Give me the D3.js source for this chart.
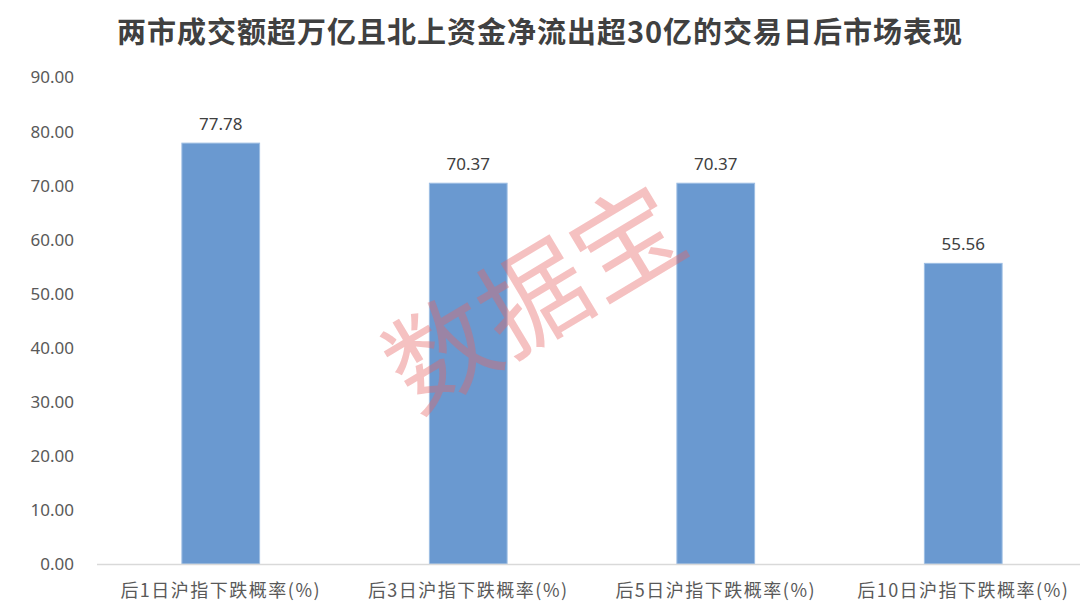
<!DOCTYPE html>
<html>
<head>
<meta charset="utf-8">
<script src="https://cdn.jsdelivr.net/npm/d3@7/dist/d3.min.js"></script>
<style>
  html, body { margin: 0; padding: 0; background: #fff; }
  svg { display: block; }
</style>
</head>
<body>
<svg id="chart" width="1080" height="611"></svg>
<script>
const titleText = "两市成交额超万亿且北上资金净流出超30亿的交易日后市场表现";
const categories = ["后1日沪指下跌概率(%)", "后3日沪指下跌概率(%)", "后5日沪指下跌概率(%)", "后10日沪指下跌概率(%)"];
const values = [77.78, 70.37, 70.37, 55.56];
const yTicks = [0, 10, 20, 30, 40, 50, 60, 70, 80, 90];
const watermark = "数据宝";

const svg = d3.select("#chart");
const W = 1080, H = 611;
const plotLeft = 97, plotRight = 1087, plotTop = 77, plotBottom = 564;

const x = d3.scaleBand().domain(categories).range([plotLeft, plotRight]).paddingInner(0.686).paddingOuter(0.343);
const y = d3.scaleLinear().domain([0, 90]).range([plotBottom, plotTop]);

const latin = "'Noto Sans', 'Noto Sans CJK SC', sans-serif";
const cjk = "'Noto Sans CJK SC', 'Noto Sans', sans-serif";

// Title
svg.append("text")
  .attr("x", 540).attr("y", 43)
  .attr("text-anchor", "middle")
  .attr("font-family", cjk)
  .attr("font-weight", "bold")
  .attr("font-size", 29)
  .attr("letter-spacing", 1)
  .attr("fill", "#404040")
  .text(titleText);

// Y axis (labels only)
const yAxis = d3.axisLeft(y).tickValues(yTicks).tickFormat(d3.format(".2f")).tickSize(0).tickPadding(0);
const yg = svg.append("g").attr("transform", "translate(74,0)").call(yAxis);
yg.select(".domain").remove();
yg.selectAll("text")
  .attr("font-family", latin)
  .attr("font-size", 17)
  .attr("fill", "#595959")
  .attr("dy", "0.35em");

// Bars
svg.append("g").selectAll("rect")
  .data(values)
  .join("rect")
  .attr("x", (d, i) => x(categories[i]))
  .attr("y", d => y(d))
  .attr("width", x.bandwidth())
  .attr("height", d => y(0) - y(d))
  .attr("fill", "#6A99D0")
  .attr("stroke", "#9dbde3")
  .attr("stroke-width", 1);

// Value labels
svg.append("g").selectAll("text")
  .data(values)
  .join("text")
  .attr("x", (d, i) => x(categories[i]) + x.bandwidth() / 2)
  .attr("y", d => y(d) - 13)
  .attr("text-anchor", "middle")
  .attr("font-family", latin)
  .attr("font-size", 17)
  .attr("fill", "#404040")
  .text(d => d.toFixed(2));

// X axis
const xAxis = d3.axisBottom(x).tickSize(0).tickPadding(0);
const xg = svg.append("g").attr("transform", `translate(0,${plotBottom})`).call(xAxis);
xg.select(".domain").remove();
svg.append("line")
  .attr("x1", plotLeft).attr("x2", W)
  .attr("y1", plotBottom + 0.5).attr("y2", plotBottom + 0.5)
  .attr("stroke", "#d9d9d9").attr("stroke-width", 1.5);
xg.selectAll("text")
  .attr("font-family", cjk)
  .attr("font-size", 18)
  .attr("letter-spacing", 1.5)
  .attr("fill", "#595959")
  .attr("y", 33)
  .attr("dy", 0);

// Watermark
svg.append("text")
  .attr("transform", "translate(535,299) rotate(-31)")
  .attr("text-anchor", "middle")
  .attr("dy", "0.35em")
  .attr("font-family", cjk)
  .attr("font-size", 108)
  .attr("fill", "rgb(230,100,100)")
  .attr("fill-opacity", 0.4)
  .text(watermark);
</script>
</body>
</html>
